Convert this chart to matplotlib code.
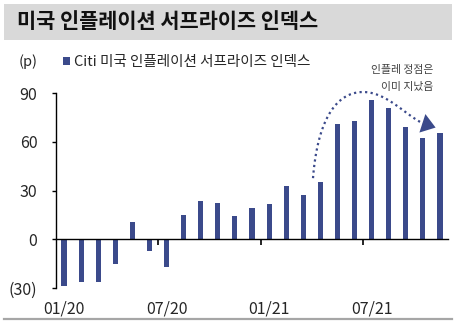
import matplotlib
matplotlib.use("Agg")
import matplotlib.pyplot as plt
import numpy as np
from matplotlib.patches import Rectangle, FancyArrowPatch
from matplotlib.lines import Line2D

plt.rcParams['font.family'] = ['Noto Sans CJK KR', 'DejaVu Sans']

# Monthly Citi inflation surprise index, Jan 2020 - Nov 2021
values = [-29, -26, -26.5, -15, 10.5, -7.5, -17, 15, 23.5, 22.5, 14.5, 19.5,
          21.5, 33, 27.5, 35.5, 71, 73, 86, 81, 69, 62.5, 65.5]
tick_positions = [0, 6, 12, 18]
tick_labels = ["01/20", "07/20", "01/21", "07/21"]
yticks = [-30, 0, 30, 60, 90]
ytick_labels = ["(30)", "0", "30", "60", "90"]

title = "미국 인플레이션 서프라이즈 인덱스"
series_name = "Citi 미국 인플레이션 서프라이즈 인덱스"
note_lines = ["인플레 정점은", "이미 지났음"]

bar_color = "#3B4A8B"
text_color = "#262626"

fig = plt.figure(figsize=(4.68, 3.26), dpi=100)
W, H = 468, 326

# title band
fig.patches.append(Rectangle((4 / W, 1 - 40 / H), 448 / W, 36 / H,
                             transform=fig.transFigure, facecolor="#D9D9D9",
                             edgecolor="none", zorder=0))
fig.text(17 / W, 1 - 22 / H, title, fontsize=15, fontweight="bold",
         color="#111111", va="center", ha="left")

# bottom rule
fig.add_artist(Line2D([4 / W, 452 / W], [1 - 319 / H, 1 - 319 / H],
                      transform=fig.transFigure, color="#A6A6A6", lw=1.6))

ax = fig.add_axes([55.5 / W, 38 / H, 393 / W, 195 / H])
x = np.arange(len(values))
bars = ax.bar(x, values, width=0.3, color=bar_color, label=series_name, zorder=2)

ax.set_xlim(-0.5, len(values) - 0.5)
ax.set_ylim(-30, 90)

for s in ["top", "right"]:
    ax.spines[s].set_visible(False)
ax.spines["left"].set_color("black")
ax.spines["left"].set_linewidth(1.0)
ax.spines["bottom"].set_position(("data", 0))
ax.spines["bottom"].set_color("black")
ax.spines["bottom"].set_linewidth(1.0)
ax.spines["bottom"].set_zorder(3)

ax.set_yticks(yticks)
ax.set_yticklabels(ytick_labels)
ax.tick_params(axis="y", direction="out", length=3, width=1, pad=10,
               labelsize=11.5, labelcolor=text_color)

ax.set_xticks(tick_positions)
ax.set_xticklabels(tick_labels)
ax.set_xticks([p - 0.5 for p in tick_positions[1:]], minor=True)
ax.tick_params(axis="x", which="major", length=0, pad=44, labelsize=11.5,
               labelcolor=text_color)
ax.tick_params(axis="x", which="minor", direction="out", length=4, width=1.2)

# unit label and legend
fig.text(19 / W, 1 - 62 / H, "(p)", fontsize=10.5, color=text_color,
         va="center", ha="left")
fig.legend(handles=[bars], loc="center left",
           bbox_to_anchor=(63 / W, 1 - 62 / H), frameon=False, fontsize=10.5,
           handlelength=0.5, handleheight=0.5, handletextpad=0.25,
           borderpad=0, borderaxespad=0, labelcolor=text_color)

# dotted arc showing the peak passing
def bezier(p0, p1, p2, p3, n=60):
    t = np.linspace(0, 1, n)[:, None]
    p0, p1, p2, p3 = map(np.asarray, (p0, p1, p2, p3))
    return ((1 - t) ** 3) * p0 + 3 * ((1 - t) ** 2) * t * p1 + 3 * (1 - t) * t ** 2 * p2 + t ** 3 * p3

seg1 = bezier((14.57, 37.6), (14.85, 75), (16.0, 90.6), (17.5, 90.6))
seg2 = bezier((17.5, 90.6), (18.9, 90.6), (20.0, 76.0), (21.1, 70.8))
curve = np.vstack([seg1, seg2[1:]])
ax.plot(curve[:, 0], curve[:, 1], linestyle=(0, (1, 1.5)), color=bar_color,
        lw=1.6, clip_on=False, zorder=4)
ax.add_patch(FancyArrowPatch((20.9, 71.6), (21.9, 68.2),
                             arrowstyle="-|>,head_length=5,head_width=3.5",
                             color=bar_color, lw=0, clip_on=False,
                             mutation_scale=2.0, zorder=4))

fig.text(433 / W, 1 - 70 / H, note_lines[0], fontsize=7.8, color="#404040",
         ha="right", va="center")
fig.text(433 / W, 1 - 87 / H, note_lines[1], fontsize=7.8, color="#404040",
         ha="right", va="center")

fig.savefig("out.png", dpi=100)
